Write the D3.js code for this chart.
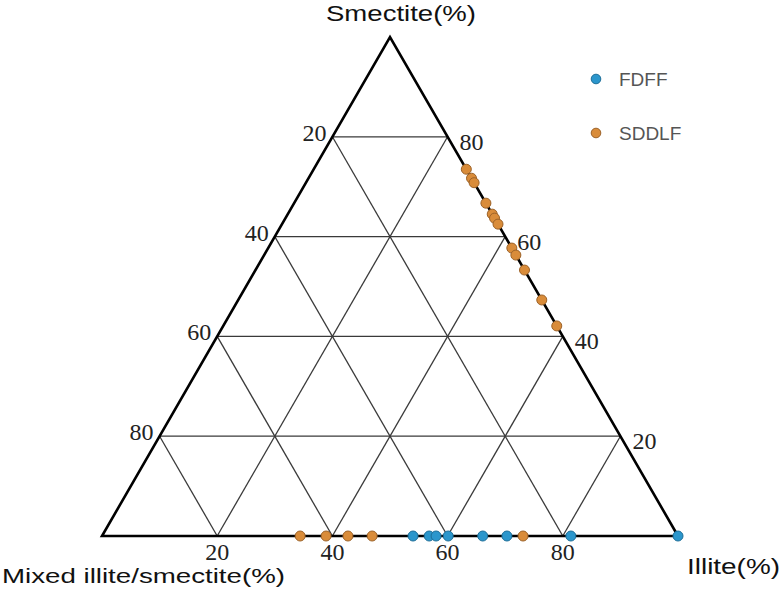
<!DOCTYPE html>
<html lang="en">
<head>
<meta charset="UTF-8">
<title>Ternary clay minerals</title>
<script src="https://d3js.org/d3.v7.min.js"></script>
<style>
  html, body { margin: 0; padding: 0; background: #fff; }
  svg { display: block; }
</style>
</head>
<body>
<div id="chart"></div>
<script>
// grid levels (percent)
const gridLevels = [20, 40, 60, 80];

// FDFF samples: smectite / illite / mixed I-S (%)
const fdffSmectite = [0, 0, 0, 0, 0, 0, 0, 0];
const fdffIllite   = [54.0, 56.8, 58.0, 60.1, 66.1, 70.3, 81.4, 100];
const fdffMixed    = [46.0, 43.2, 42.0, 39.9, 33.9, 29.7, 18.6, 0];

// SDDLF samples
const sddlfSmectite = [73.5, 71.7, 70.8, 66.7, 64.5, 63.7, 62.5, 57.7, 56.3, 53.3, 47.3, 42.1,
                       0, 0, 0, 0, 0];
const sddlfIllite   = [26.5, 28.3, 29.2, 33.3, 35.5, 36.3, 37.5, 42.3, 43.7, 46.7, 52.7, 57.9,
                       34.4, 38.9, 42.7, 46.9, 73.1];
const sddlfMixed    = [0, 0, 0, 0, 0, 0, 0, 0, 0, 0, 0, 0,
                       65.6, 61.1, 57.3, 53.1, 26.9];

const seriesNames  = ['FDFF', 'SDDLF'];
const seriesColors = ['#2b96cc', '#d98c3a'];
const seriesStroke = ['#1d6e98', '#9c6228'];

const width = 784, height = 591;
const L = { x: 102, y: 536 };   // Mixed I/S vertex
const R = { x: 678, y: 536 };   // Illite vertex
const T = { x: 390, y: 37 };    // Smectite vertex

// scales for the ternary coordinates
const yScale = d3.scaleLinear().domain([0, 100]).range([L.y, T.y]);
const side = R.x - L.x;
function project(s, i, m) {
  const tot = s + i + m;
  const sf = s / tot, fi = i / tot;
  return [L.x + side * fi + (T.x - L.x) * sf, yScale(sf * 100)];
}

const svg = d3.select('#chart').append('svg')
  .attr('width', width)
  .attr('height', height);

const grid = svg.append('g')
  .attr('stroke', '#3a3a3a')
  .attr('stroke-width', 1.3)
  .attr('fill', 'none');

gridLevels.forEach(v => {
  // constant smectite
  const a = project(v, 0, 100 - v), b = project(v, 100 - v, 0);
  grid.append('line').attr('x1', a[0]).attr('y1', a[1]).attr('x2', b[0]).attr('y2', b[1]);
  // constant illite
  const c = project(0, v, 100 - v), d = project(100 - v, v, 0);
  grid.append('line').attr('x1', c[0]).attr('y1', c[1]).attr('x2', d[0]).attr('y2', d[1]);
  // constant mixed
  const e = project(0, 100 - v, v), f = project(100 - v, 0, v);
  grid.append('line').attr('x1', e[0]).attr('y1', e[1]).attr('x2', f[0]).attr('y2', f[1]);
});

svg.append('path')
  .attr('d', d3.line()([[L.x, L.y], [R.x, R.y], [T.x, T.y]]) + 'Z')
  .attr('fill', 'none')
  .attr('stroke', '#000')
  .attr('stroke-width', 2.6)
  .attr('stroke-linejoin', 'miter');

// tick labels
const tickFont = '"Liberation Serif", "Times New Roman", serif';
const ticks = svg.append('g')
  .attr('font-family', tickFont)
  .attr('font-size', 24)
  .attr('fill', '#222');

// left edge: mixed I/S
gridLevels.forEach(v => {
  const p = project(100 - v, 0, v);
  ticks.append('text')
    .attr('x', p[0] - 6).attr('y', p[1] + 4)
    .attr('text-anchor', 'end')
    .text(v);
});
// right edge: smectite
gridLevels.forEach(v => {
  const p = project(v, 100 - v, 0);
  ticks.append('text')
    .attr('x', p[0] + 12).attr('y', p[1] + 13)
    .text(v);
});
// bottom edge: illite
gridLevels.forEach(v => {
  const p = project(0, v, 100 - v);
  ticks.append('text')
    .attr('x', p[0]).attr('y', p[1] + 24)
    .attr('text-anchor', 'middle')
    .text(v);
});

// axis titles
const titleFont = 'Arial, "Liberation Sans", sans-serif';
svg.append('text')
  .attr('x', 326).attr('y', 21)
  .attr('font-family', titleFont).attr('font-size', 22)
  .attr('textLength', 150).attr('lengthAdjust', 'spacingAndGlyphs')
  .attr('fill', '#111')
  .text('Smectite(%)');
svg.append('text')
  .attr('x', 2).attr('y', 583)
  .attr('font-family', titleFont).attr('font-size', 21)
  .attr('textLength', 283).attr('lengthAdjust', 'spacingAndGlyphs')
  .attr('fill', '#111')
  .text('Mixed illite/smectite(%)');
svg.append('text')
  .attr('x', 687).attr('y', 574)
  .attr('font-family', titleFont).attr('font-size', 22)
  .attr('textLength', 93).attr('lengthAdjust', 'spacingAndGlyphs')
  .attr('fill', '#111')
  .text('Illite(%)');

// points
const series = [
  { s: fdffSmectite, i: fdffIllite, m: fdffMixed },
  { s: sddlfSmectite, i: sddlfIllite, m: sddlfMixed }
];
series.forEach((ser, k) => {
  const pts = ser.s.map((s, j) => project(s, ser.i[j], ser.m[j]));
  svg.append('g').selectAll('circle')
    .data(pts)
    .join('circle')
    .attr('cx', d => d[0])
    .attr('cy', d => d[1])
    .attr('r', 5)
    .attr('fill', seriesColors[k])
    .attr('stroke', seriesStroke[k])
    .attr('stroke-width', 1);
});

// legend
const legend = svg.append('g');
seriesNames.forEach((name, k) => {
  const y = 79 + k * 54;
  legend.append('circle')
    .attr('cx', 596).attr('cy', y).attr('r', 4.8)
    .attr('fill', seriesColors[k])
    .attr('stroke', seriesStroke[k]);
  legend.append('text')
    .attr('x', 619).attr('y', y + 7)
    .attr('font-family', titleFont).attr('font-size', 19)
    .attr('fill', '#555')
    .text(name);
});
</script>
</body>
</html>
